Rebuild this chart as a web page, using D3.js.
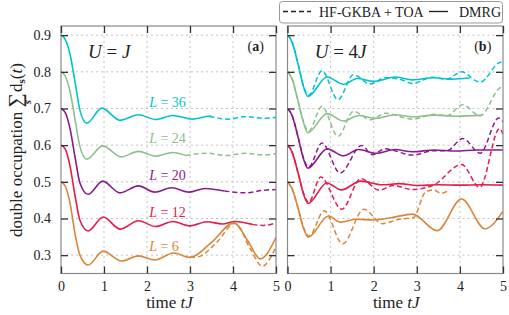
<!DOCTYPE html>
<html>
<head>
<meta charset="utf-8">
<script src="https://cdn.jsdelivr.net/npm/d3@7"></script>
<style>
	body { margin: 0; background: #fff; }
	svg { display: block; }
	svg text { font-family: 'Liberation Serif', 'Times New Roman', serif; }
</style>
</head>
<body>
<svg id="chart" width="509" height="315"></svg>
<script>
const timeTicks = [0, 1, 2, 3, 4, 5]
const occTicks = [0.3, 0.4, 0.5, 0.6, 0.7, 0.8, 0.9]
const chainLengths = [36, 24, 20, 12, 6]
const chainColors = ['#00c4cb', '#8cc08c', '#8a1b8c', '#e6194b', '#d9853a']
const panelTags = ['a', 'b']
const panelU = ['', '4']

// panel (a): U = J, [t, double occupation]
const a36dmrg = [[0, 0.9], [0.1, 0.888], [0.21, 0.848], [0.33, 0.77], [0.44, 0.695], [0.6, 0.66], [0.95, 0.701], [1.37, 0.668], [1.8, 0.683], [2.2, 0.67], [2.6, 0.681], [3.05, 0.671], [3.45, 0.679], [3.5, 0.679]]
const a36gkba = [[3.45, 0.679], [3.9, 0.671], [4.3, 0.678], [4.7, 0.673], [5, 0.676]]
const a24dmrg = [[0, 0.8], [0.1, 0.788], [0.21, 0.747], [0.33, 0.668], [0.44, 0.596], [0.6, 0.562], [0.97, 0.598], [1.4, 0.568], [1.8, 0.583], [2.2, 0.57], [2.6, 0.58], [2.9, 0.572]]
const a24gkba = [[2.9, 0.572], [3.4, 0.578], [3.85, 0.572], [4.3, 0.578], [4.7, 0.573], [5, 0.577]]
const a20dmrg = [[0, 0.7], [0.1, 0.689], [0.21, 0.645], [0.33, 0.565], [0.44, 0.497], [0.63, 0.466], [0.97, 0.502], [1.37, 0.47], [1.8, 0.489], [2.18, 0.472], [2.57, 0.484], [2.98, 0.472], [3.35, 0.482], [3.8, 0.475]]
const a20gkba = [[3.8, 0.475], [4.3, 0.47], [4.7, 0.477], [5, 0.479]]
const a12dmrg = [[0, 0.6], [0.1, 0.589], [0.21, 0.543], [0.33, 0.46], [0.44, 0.395], [0.63, 0.366], [0.98, 0.404], [1.38, 0.371], [1.8, 0.394], [2.2, 0.378], [2.6, 0.392], [3.0, 0.38], [3.4, 0.391], [3.75, 0.385], [4.05, 0.392], [4.45, 0.384]]
const a12gkba = [[4.45, 0.384], [4.7, 0.381], [5, 0.388]]
const a6dmrg = [[0, 0.5], [0.1, 0.488], [0.21, 0.442], [0.33, 0.356], [0.44, 0.3], [0.63, 0.273], [0.98, 0.311], [1.41, 0.284], [1.8, 0.298], [2.18, 0.287], [2.62, 0.306], [3.0, 0.294], [3.5, 0.335], [4.02, 0.388], [4.35, 0.338], [4.63, 0.29], [5, 0.348]]
const a6gkba = [[3.0, 0.294], [3.2, 0.296], [3.6, 0.332], [4.05, 0.387], [4.4, 0.318], [4.68, 0.27], [5, 0.323]]

// panel (b): U = 4J
const b36dmrg = [[0, 0.9], [0.1, 0.883], [0.25, 0.819], [0.37, 0.76], [0.47, 0.733], [0.92, 0.786], [1.3, 0.766], [1.62, 0.782], [2.0, 0.774], [2.5, 0.786], [2.9, 0.778], [3.4, 0.784], [3.8, 0.78], [4.23, 0.783]]
const b36gkba = [[0, 0.9], [0.1, 0.883], [0.25, 0.819], [0.37, 0.762], [0.49, 0.736], [0.8, 0.803], [1.17, 0.724], [1.53, 0.792], [1.92, 0.767], [2.27, 0.784], [2.6, 0.78], [2.9, 0.768], [3.35, 0.785], [3.7, 0.78], [4.03, 0.8], [4.47, 0.772], [4.95, 0.826], [5, 0.823]]
const b24dmrg = [[0, 0.8], [0.1, 0.783], [0.25, 0.718], [0.37, 0.662], [0.47, 0.634], [0.92, 0.686], [1.3, 0.666], [1.65, 0.681], [2.05, 0.673], [2.5, 0.683], [2.9, 0.677], [3.4, 0.682], [3.9, 0.679], [4.53, 0.682]]
const b24gkba = [[0, 0.8], [0.1, 0.783], [0.25, 0.718], [0.37, 0.664], [0.49, 0.638], [0.8, 0.706], [1.17, 0.624], [1.53, 0.692], [1.93, 0.669], [2.27, 0.687], [2.9, 0.671], [3.4, 0.684], [3.7, 0.68], [4.06, 0.71], [4.47, 0.68], [4.96, 0.757], [5, 0.754]]
const b20dmrg = [[0, 0.7], [0.1, 0.683], [0.25, 0.62], [0.37, 0.563], [0.47, 0.537], [0.92, 0.59], [1.3, 0.571], [1.65, 0.588], [2.05, 0.578], [2.5, 0.588], [2.9, 0.582], [3.4, 0.587], [3.9, 0.584], [4.4, 0.587], [5, 0.587]]
const b20gkba = [[0, 0.7], [0.1, 0.683], [0.25, 0.62], [0.37, 0.565], [0.49, 0.54], [0.8, 0.606], [1.22, 0.524], [1.72, 0.599], [1.97, 0.574], [2.26, 0.59], [2.9, 0.573], [3.4, 0.585], [3.7, 0.585], [4.07, 0.618], [4.47, 0.578], [4.9, 0.674], [5, 0.664]]
const b12dmrg = [[0, 0.6], [0.1, 0.583], [0.25, 0.522], [0.37, 0.467], [0.48, 0.441], [0.91, 0.497], [1.25, 0.478], [1.7, 0.502], [2.2, 0.492], [2.6, 0.495], [3.0, 0.49], [3.5, 0.492], [4.0, 0.491], [4.5, 0.492], [5, 0.491]]
const b12gkba = [[0, 0.6], [0.1, 0.583], [0.25, 0.522], [0.37, 0.47], [0.49, 0.444], [0.77, 0.513], [1.26, 0.425], [1.7, 0.509], [2.13, 0.477], [2.45, 0.49], [2.9, 0.479], [3.4, 0.492], [4.04, 0.547], [4.46, 0.485], [4.92, 0.645], [5, 0.63]]
const b6dmrg = [[0, 0.5], [0.1, 0.483], [0.25, 0.426], [0.37, 0.374], [0.48, 0.349], [0.95, 0.407], [1.23, 0.39], [1.6, 0.398], [2.0, 0.396], [2.4, 0.402], [2.9, 0.412], [3.47, 0.367], [4.04, 0.453], [4.58, 0.372], [5, 0.42]]
const b6gkba = [[0, 0.5], [0.1, 0.483], [0.25, 0.426], [0.37, 0.376], [0.5, 0.352], [0.85, 0.421], [1.28, 0.331], [1.77, 0.425], [2.2, 0.386], [2.6, 0.398], [2.92, 0.402], [3.2, 0.472], [3.38, 0.478], [3.57, 0.469], [3.76, 0.478]]

const curvesA = [
	{ dmrg: a36dmrg, gkba: a36gkba },
	{ dmrg: a24dmrg, gkba: a24gkba },
	{ dmrg: a20dmrg, gkba: a20gkba },
	{ dmrg: a12dmrg, gkba: a12gkba },
	{ dmrg: a6dmrg, gkba: a6gkba }
]
const curvesB = [
	{ dmrg: b36dmrg, gkba: b36gkba },
	{ dmrg: b24dmrg, gkba: b24gkba },
	{ dmrg: b20dmrg, gkba: b20gkba },
	{ dmrg: b12dmrg, gkba: b12gkba },
	{ dmrg: b6dmrg, gkba: b6gkba }
]

const svg = d3.select('#chart')
const y = d3.scaleLinear().domain([0.25, 0.925]).range([273.5, 26])
const dashes = '5,3'

function drawPanel(idx, left, right, curves) {
	const x = d3.scaleLinear().domain([0, 5]).range([left, right])
	const g = svg.append('g')

	g.append('clipPath').attr('id', `clip-${idx}`)
		.append('rect')
		.attr('x', left).attr('y', y(0.925))
		.attr('width', right - left).attr('height', y(0.25) - y(0.925))

	// dotted grid
	g.selectAll('.vgrid')
		.data(timeTicks.slice(1, -1))
		.join('line')
		.attr('x1', (d) => x(d)).attr('x2', (d) => x(d))
		.attr('y1', y(0.925)).attr('y2', y(0.25))
		.style('stroke', '#b5b5b5').style('stroke-width', 0.8).style('stroke-dasharray', '2,3')
	g.selectAll('.hgrid')
		.data(occTicks)
		.join('line')
		.attr('x1', left).attr('x2', right)
		.attr('y1', (d) => y(d)).attr('y2', (d) => y(d))
		.style('stroke', '#b5b5b5').style('stroke-width', 0.8).style('stroke-dasharray', '2,3')

	const line = d3.line()
		.x((d) => x(d[0]))
		.y((d) => y(d[1]))
		.curve(d3.curveMonotoneX)

	const cg = g.append('g').attr('clip-path', `url(#clip-${idx})`)
	curves.forEach((c, i) => {
		cg.append('path')
			.attr('d', line(c.gkba))
			.style('fill', 'none')
			.style('stroke', chainColors[i])
			.style('stroke-width', 1.5)
			.style('stroke-dasharray', dashes)
		cg.append('path')
			.attr('d', line(c.dmrg))
			.style('fill', 'none')
			.style('stroke', chainColors[i])
			.style('stroke-width', 1.6)
	})

	// frame
	g.append('rect')
		.attr('x', left).attr('y', y(0.925))
		.attr('width', right - left).attr('height', y(0.25) - y(0.925))
		.style('fill', 'none').style('stroke', '#8a8a8a').style('stroke-width', 1.2)

	// inward ticks on all four sides
	const tickLen = -7
	const bottom = g.append('g').attr('transform', `translate(0,${y(0.25)})`)
		.call(d3.axisBottom(x).tickValues(timeTicks).tickSize(tickLen).tickPadding(8).tickFormat(d3.format('d')))
	const top = g.append('g').attr('transform', `translate(0,${y(0.925)})`)
		.call(d3.axisTop(x).tickValues(timeTicks).tickSize(tickLen).tickFormat(''))
	const leftAx = g.append('g').attr('transform', `translate(${left},0)`)
		.call(d3.axisLeft(y).tickValues(occTicks).tickSize(tickLen).tickPadding(10)
			.tickFormat(idx === 0 ? d3.format('.1f') : ''))
	const rightAx = g.append('g').attr('transform', `translate(${right},0)`)
		.call(d3.axisRight(y).tickValues(occTicks).tickSize(tickLen).tickFormat(''))

	;[bottom, top, leftAx, rightAx].forEach((ax) => {
		ax.attr('font-family', null).attr('font-size', null)
		ax.select('.domain').remove()
		ax.selectAll('.tick line').style('stroke', '#333').style('stroke-width', 1.3)
		ax.selectAll('.tick text')
			.style('font-size', '14px')
			.style('fill', '#222')
	})

	// U = J / U = 4J
	const ut = g.append('text')
		.attr('x', x(0.63)).attr('y', y(0.837))
		.style('font-size', '19px').style('fill', '#222')
	ut.append('tspan').text('U').style('font-style', 'italic')
	ut.append('tspan').text(` = ${panelU[idx]}`)
	ut.append('tspan').text('J').style('font-style', 'italic')

	// (a) / (b)
	const tag = g.append('text')
		.attr('x', x(4.53)).attr('y', y(0.858))
		.attr('text-anchor', 'middle')
		.style('font-size', '14px').style('fill', '#222')
	tag.append('tspan').text('(')
	tag.append('tspan').text(panelTags[idx]).style('font-weight', 'bold')
	tag.append('tspan').text(')')

	// time axis title
	const xt = g.append('text')
		.attr('x', (left + right) / 2 + 1).attr('y', 308)
		.attr('text-anchor', 'middle')
		.style('font-size', '17px').style('fill', '#222')
	xt.append('tspan').text('time ')
	xt.append('tspan').text('tJ').style('font-style', 'italic')

	return x
}

const xA = drawPanel(0, 61, 276, curvesA)
drawPanel(1, 287.5, 503, curvesB)

// chain-length labels in panel (a)
const labelLevels = [0.704, 0.606, 0.505, 0.404, 0.311]
chainLengths.forEach((L, i) => {
	const t = svg.append('text')
		.attr('x', xA(2.05)).attr('y', y(labelLevels[i]))
		.style('font-size', '14px')
		.style('fill', chainColors[i])
	t.append('tspan').text('L').style('font-style', 'italic')
	t.append('tspan').text(` = ${L}`)
})

// y axis title
const ylab = svg.append('text')
	.attr('transform', 'translate(22,150) rotate(-90)')
	.attr('text-anchor', 'middle')
	.style('font-size', '17px').style('fill', '#222')
ylab.append('tspan').text('double occupation ')
ylab.append('tspan').text('∑').style('font-size', '20px')
ylab.append('tspan').text('s').style('font-size', '11px').style('font-style', 'italic').style('font-weight', 'bold')
	.attr('dx', -11).attr('dy', 9)
ylab.append('tspan').text('d').attr('dx', 8).attr('dy', -9)
ylab.append('tspan').text('s').style('font-size', '11px').style('font-weight', 'bold').attr('dy', 3)
ylab.append('tspan').text('(').attr('dy', -3)
ylab.append('tspan').text('t').style('font-style', 'italic')
ylab.append('tspan').text(')')

// legend
const lg = svg.append('g')
lg.append('rect')
	.attr('x', 279.5).attr('y', 1.5).attr('width', 223).attr('height', 21.5).attr('rx', 3)
	.style('fill', '#fff').style('stroke', '#999').style('stroke-width', 1)
lg.append('line')
	.attr('x1', 283).attr('x2', 311).attr('y1', 11.5).attr('y2', 11.5)
	.style('stroke', '#222').style('stroke-width', 1.4).style('stroke-dasharray', dashes)
lg.append('text').attr('x', 319).attr('y', 16.5).text('HF-GKBA + TOA')
	.style('font-size', '14px').style('fill', '#222')
lg.append('line')
	.attr('x1', 429).attr('x2', 448).attr('y1', 11.5).attr('y2', 11.5)
	.style('stroke', '#222').style('stroke-width', 1.4)
lg.append('text').attr('x', 459).attr('y', 16.5).text('DMRG')
	.style('font-size', '14px').style('fill', '#222')
</script>
</body>
</html>
